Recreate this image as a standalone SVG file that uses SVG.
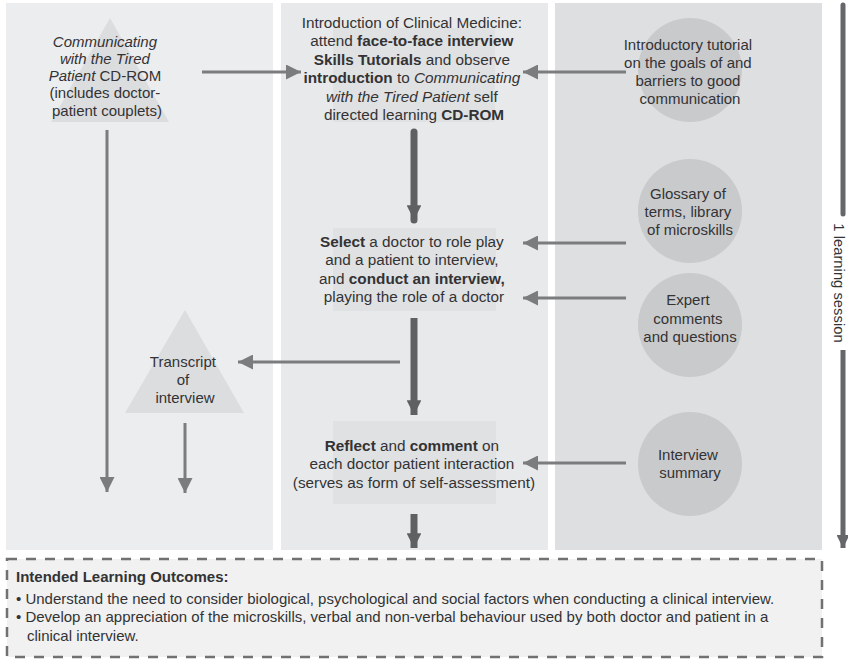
<svg xmlns="http://www.w3.org/2000/svg" width="848" height="660" viewBox="0 0 848 660">
  <style>
    text { font-family: "Liberation Sans", Arial, sans-serif; fill: #333335; }
    .c { text-anchor: middle; font-size: 15px; }
    .m { font-size: 15.3px; }
    .b { font-weight: bold; }
    .i { font-style: italic; }
    .thin { stroke: #7b7c7e; stroke-width: 3; fill: none; }
    .thick { stroke: #5f6062; stroke-width: 7; fill: none; }
    .circ { fill: #c9cacc; }
    .tri { fill: #dcdddf; }
    .hl { fill: #e0e1e2; }
  </style>
  <defs>
    <marker id="ah" viewBox="0 0 10 10" refX="10" refY="5" markerWidth="5.5" markerHeight="5" markerUnits="strokeWidth" orient="auto">
      <path d="M0,0 L10,5 L0,10 z" fill="#7b7c7e"/>
    </marker>
    <marker id="ahk" viewBox="0 0 10 10" refX="10" refY="5" markerWidth="2.3" markerHeight="2.1" markerUnits="strokeWidth" orient="auto">
      <path d="M0,0 L10,5 L0,10 z" fill="#5f6062"/>
    </marker>
    <marker id="ahs" viewBox="0 0 10 10" refX="10" refY="5" markerWidth="3.2" markerHeight="2.6" markerUnits="strokeWidth" orient="auto">
      <path d="M0,0 L10,5 L0,10 z" fill="#66676a"/>
    </marker>
  </defs>

  <!-- column panels -->
  <g id="panels">
    <rect x="6" y="3" width="267" height="547" fill="#ecedef"/>
    <rect x="281" y="3" width="267" height="547" fill="#e8e9ea"/>
    <rect x="555" y="3" width="267" height="547" fill="#dedfe1"/>
  </g>

  <!-- learning session timeline -->
  <g id="session">
    <line x1="843" y1="5" x2="843" y2="214" stroke="#66676a" stroke-width="5" stroke-linecap="round"/>
    <text transform="translate(834,283) rotate(90)" text-anchor="middle" font-size="14.8">1 learning session</text>
    <line x1="843" y1="350" x2="843" y2="548" stroke="#66676a" stroke-width="5" marker-end="url(#ahs)"/>
  </g>

  <!-- connectors -->
  <g id="connectors">
    <line class="thin" x1="202" y1="72" x2="301" y2="72" marker-end="url(#ah)"/>
    <line class="thin" x1="107" y1="130" x2="107" y2="492" marker-end="url(#ah)"/>
    <line class="thin" x1="626" y1="72" x2="523" y2="72" marker-end="url(#ah)"/>
    <line class="thin" x1="626" y1="243" x2="523" y2="243" marker-end="url(#ah)"/>
    <line class="thin" x1="626" y1="298" x2="523" y2="298" marker-end="url(#ah)"/>
    <line class="thin" x1="626" y1="463" x2="523" y2="463" marker-end="url(#ah)"/>
    <line class="thin" x1="400" y1="362" x2="238" y2="362" marker-end="url(#ah)"/>
    <line class="thin" x1="185" y1="423" x2="185" y2="493" marker-end="url(#ah)"/>
    <line class="thick" x1="414" y1="132" x2="414" y2="220" stroke-linecap="round" marker-end="url(#ahk)"/>
    <line class="thick" x1="414" y1="318" x2="414" y2="415" marker-end="url(#ahk)"/>
    <line class="thick" x1="414" y1="514" x2="414" y2="548" marker-end="url(#ahk)"/>
  </g>

  <!-- CD-ROM resource -->
  <g id="cdrom">
    <polygon class="tri" points="110,18 169,122 51,122"/>
    <text class="c">
      <tspan x="107" y="47" class="i">Communicating</tspan>
      <tspan x="107" y="64" class="i">with the Tired</tspan>
      <tspan x="107" y="81"><tspan class="i">Patient</tspan> CD-ROM</tspan>
      <tspan x="107" y="98">(includes doctor-</tspan>
      <tspan x="107" y="116">patient couplets)</tspan>
    </text>
  </g>

  <!-- introduction step -->
  <g id="intro">
    <rect class="hl" x="333" y="28" width="162" height="94"/>
    <text class="c m">
      <tspan x="414" y="28">Introduction of Clinical Medicine:</tspan>
      <tspan x="414" y="46">attend <tspan class="b">face-to-face interview</tspan></tspan>
      <tspan x="414" y="65"><tspan class="b">Skills Tutorials</tspan> and observe</tspan>
      <tspan x="414" y="83"><tspan class="b">introduction</tspan> to <tspan class="i">Communicating</tspan></tspan>
      <tspan x="414" y="102"><tspan class="i">with the Tired Patient</tspan> self</tspan>
      <tspan x="414" y="120">directed learning <tspan class="b">CD-ROM</tspan></tspan>
    </text>
  </g>

  <!-- interview step -->
  <g id="select">
    <rect class="hl" x="333" y="228" width="163" height="83"/>
    <text class="c m">
      <tspan x="414" y="247"><tspan class="b">Select</tspan> a doctor to role play</tspan>
      <tspan x="414" y="265">and a patient to interview,</tspan>
      <tspan x="414" y="284">and <tspan class="b">conduct an interview,</tspan></tspan>
      <tspan x="414" y="302">playing the role of a doctor</tspan>
    </text>
  </g>

  <!-- reflection step -->
  <g id="reflect">
    <rect class="hl" x="333" y="421" width="163" height="83"/>
    <text class="c m">
      <tspan x="414" y="451"><tspan class="b">Reflect</tspan> and <tspan class="b">comment</tspan> on</tspan>
      <tspan x="414" y="469">each doctor patient interaction</tspan>
      <tspan x="414" y="488">(serves as form of self-assessment)</tspan>
    </text>
  </g>

  <!-- transcript -->
  <g id="transcript">
    <polygon class="tri" points="185,310 244,413 125,413"/>
    <text class="c">
      <tspan x="185" y="367">Transcript</tspan>
      <tspan x="185" y="385">of</tspan>
      <tspan x="185" y="403">interview</tspan>
    </text>
  </g>

  <!-- supporting resources -->
  <g id="tutorial">
    <circle class="circ" cx="690" cy="70" r="52"/>
    <text class="c">
      <tspan x="690" y="50">Introductory tutorial</tspan>
      <tspan x="690" y="68">on the goals of and</tspan>
      <tspan x="690" y="86">barriers to good</tspan>
      <tspan x="690" y="104">communication</tspan>
    </text>
  </g>
  <g id="glossary">
    <circle class="circ" cx="690" cy="211" r="52"/>
    <text class="c">
      <tspan x="690" y="199">Glossary of</tspan>
      <tspan x="690" y="217">terms, library</tspan>
      <tspan x="690" y="235">of microskills</tspan>
    </text>
  </g>
  <g id="expert">
    <circle class="circ" cx="690" cy="325" r="52"/>
    <text class="c">
      <tspan x="690" y="305">Expert</tspan>
      <tspan x="690" y="324">comments</tspan>
      <tspan x="690" y="342">and questions</tspan>
    </text>
  </g>
  <g id="summary">
    <circle class="circ" cx="690" cy="464" r="52"/>
    <text class="c">
      <tspan x="690" y="460">Interview</tspan>
      <tspan x="690" y="478">summary</tspan>
    </text>
  </g>

  <!-- outcomes box -->
  <g id="outcomes">
    <rect x="7" y="559" width="815" height="98" fill="#f0f1f0" stroke="#707172" stroke-width="2.5" stroke-dasharray="10 9"/>
    <text font-size="15">
      <tspan x="16" y="582" class="b">Intended Learning Outcomes:</tspan>
      <tspan x="16" y="604">• Understand the need to consider biological, psychological and social factors when conducting a clinical interview.</tspan>
      <tspan x="16" y="622">• Develop an appreciation of the microskills, verbal and non-verbal behaviour used by both doctor and patient in a</tspan>
      <tspan x="27" y="641">clinical interview.</tspan>
    </text>
  </g>
</svg>
